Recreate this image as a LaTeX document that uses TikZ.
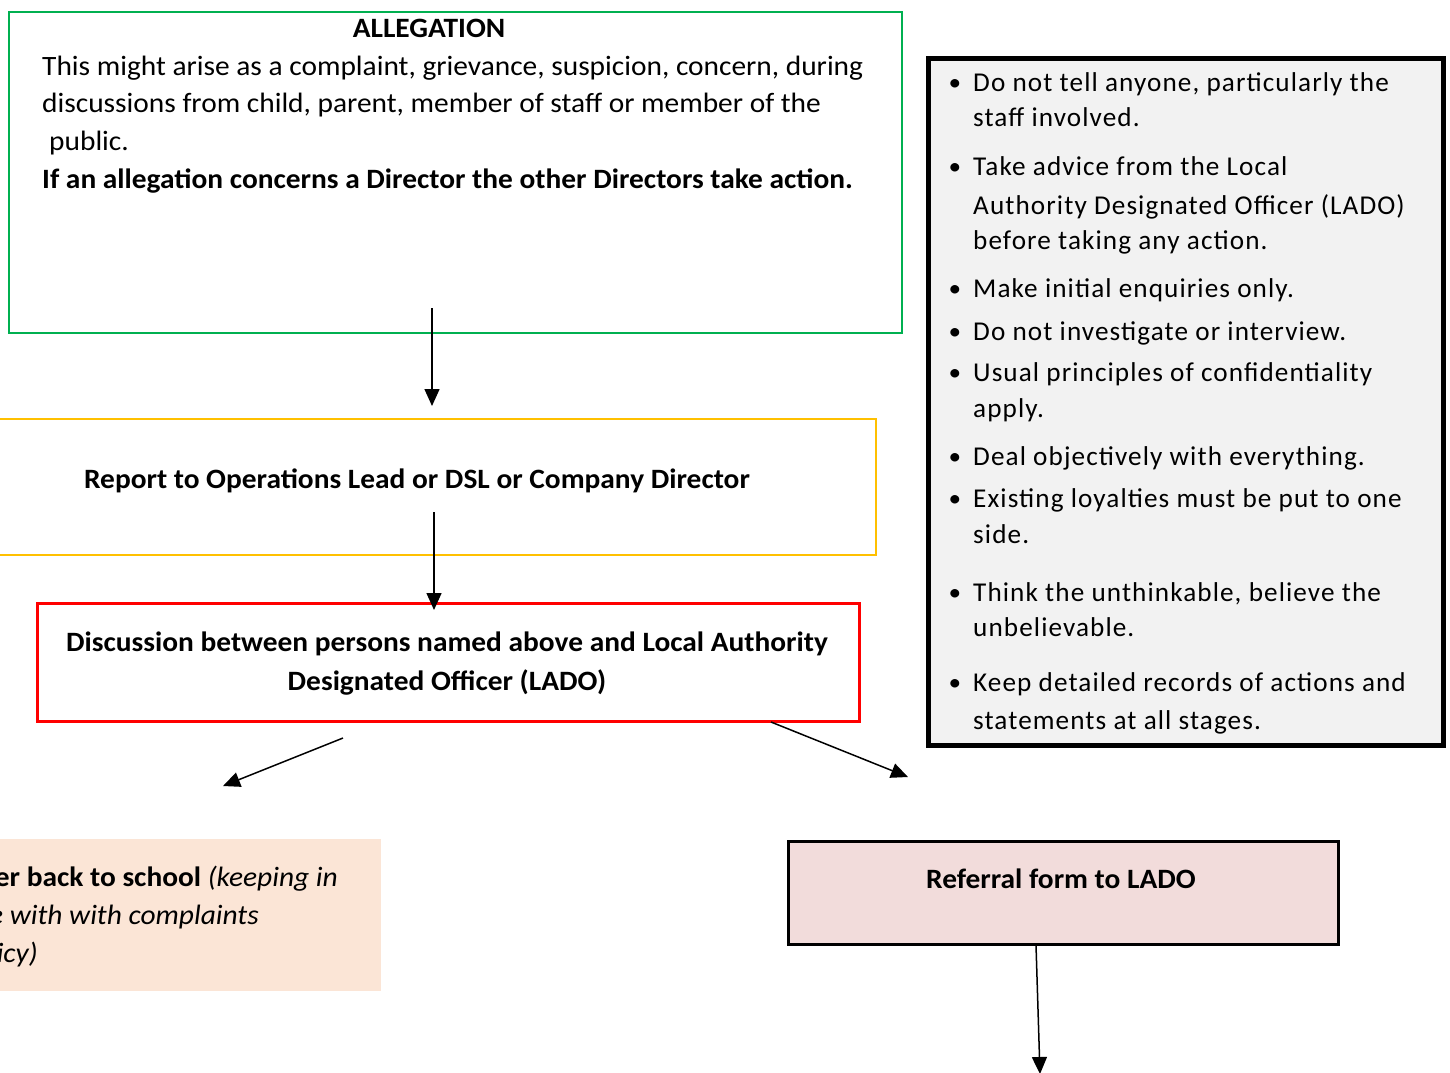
\documentclass[tikz,border=0pt]{standalone}
\usepackage{fontspec}
\setmainfont{Carlito}[FakeStretch=1.05]
\newfontfamily\spacedfont[LetterSpace=4]{Carlito}
\usetikzlibrary{arrows.meta}
\definecolor{grn}{HTML}{00B050}
\definecolor{ylw}{HTML}{FFC000}
\definecolor{rd}{HTML}{FF0000}
\definecolor{greyfill}{HTML}{F2F2F2}
\definecolor{peach}{HTML}{FBE5D6}
\definecolor{pinkfill}{HTML}{F2DCDB}
\begin{document}
\begin{tikzpicture}[x=1pt,y=-1pt,
  boxstyle/.style={inner sep=0pt, anchor=north west},
  txt/.style={inner sep=0pt, anchor=base west, font=\fontsize{28}{32}\selectfont},
  ctxt/.style={inner sep=0pt, anchor=base, font=\fontsize{28}{32}\selectfont\bfseries},
  rtxt/.style={inner sep=0pt, anchor=base east, font=\fontsize{28}{32}\selectfont},
  btxt/.style={inner sep=0pt, anchor=base west, font=\fontsize{27.2}{32}\spacedfont},
  bul/.style={inner sep=0pt, anchor=base, font=\fontsize{24}{30}\selectfont},
  arr/.style={line width=1.5pt, -{Triangle[length=17pt,width=15pt]}}]
\useasboundingbox (0,0) rectangle (1450,1072);
% boxes
\node[boxstyle, draw=grn, line width=2pt, minimum width=893pt, minimum height=321pt] (allegation) at (8,11) {};
\node[boxstyle, draw=ylw, line width=2pt, minimum width=880pt, minimum height=136pt] (report) at (-5,418) {};
\node[boxstyle, draw=rd, line width=3pt, minimum width=822pt, minimum height=118pt] (discussion) at (36,602) {};
\node[boxstyle, draw=black, fill=greyfill, line width=5pt, minimum width=515pt, minimum height=687pt] (advice) at (926,56) {};
\node[boxstyle, fill=peach, minimum width=386pt, minimum height=152pt] (refer) at (-5,839) {};
\node[boxstyle, draw=black, fill=pinkfill, line width=3pt, minimum width=550pt, minimum height=103pt] (referral) at (787,840) {};
% allegation text
\node[ctxt] (t1) at (429,37) {ALLEGATION};
\node[txt] (t2) at (42,75) {This might arise as a complaint, grievance, suspicion, concern, during};
\node[txt] (t3) at (42,112) {discussions from child, parent, member of staff or member of the};
\node[txt] (t4) at (49,150) {public.};
\node[txt, font=\fontsize{28}{32}\selectfont\bfseries] (t5) at (42,188) {If an allegation concerns a Director the other Directors take action.};
% report text
\node[ctxt] (t6) at (417,488) {Report to Operations Lead or DSL or Company Director};
% discussion text
\node[ctxt] (t7) at (447,651) {Discussion between persons named above and Local Authority};
\node[ctxt] (t8) at (447,690) {Designated Officer (LADO)};
% refer text
\node[rtxt] (t9) at (338,886) {\textbf{er back to school} \textit{(keeping in}};
\node[rtxt] (t10) at (259,924) {\textit{e with with complaints}};
\node[rtxt] (t11) at (38,962) {\textit{icy)}};
% referral text
\node[ctxt] (t12) at (1061,888) {Referral form to LADO};
% bullets
\foreach \y/\n in {90/b1,174/b2,296/b3,339/b4,380/b5,464/b6,506/b7,600/b8,690/b9}
  \node[bul] (\n) at (955,\y) {•};
\node[btxt] (r1) at (973,91) {Do not tell anyone, particularly the};
\node[btxt] (r2) at (973,126) {staff involved.};
\node[btxt] (r3) at (973,175) {Take advice from the Local};
\node[btxt] (r4) at (973,214) {Authority Designated Officer (LADO)};
\node[btxt] (r5) at (973,249) {before taking any action.};
\node[btxt] (r6) at (973,297) {Make initial enquiries only.};
\node[btxt] (r7) at (973,340) {Do not investigate or interview.};
\node[btxt] (r8) at (973,381) {Usual principles of confidentiality};
\node[btxt] (r9) at (973,417) {apply.};
\node[btxt] (r10) at (973,465) {Deal objectively with everything.};
\node[btxt] (r11) at (973,507) {Existing loyalties must be put to one};
\node[btxt] (r12) at (973,543) {side.};
\node[btxt] (r13) at (973,601) {Think the unthinkable, believe the};
\node[btxt] (r14) at (973,636) {unbelievable.};
\node[btxt] (r15) at (973,691) {Keep detailed records of actions and};
\node[btxt] (r16) at (973,729) {statements at all stages.};
% arrow endpoints
\coordinate (a1s) at (432,308);
\coordinate (a1e) at (432,406);
\coordinate (a2s) at (434,512);
\coordinate (a2e) at (434,610);
\coordinate (a3s) at (343,738);
\coordinate (a3e) at (223,786);
\coordinate (a4s) at (771,722);
\coordinate (a4e) at (908,777);
\coordinate (a5s) at (1036,945);
\coordinate (a5e) at (1040,1074);
\draw[arr] (a1s) -- (a1e);
\draw[arr] (a2s) -- (a2e);
\draw[arr] (a3s) -- (a3e);
\draw[arr] (a4s) -- (a4e);
\draw[arr] (a5s) -- (a5e);
\end{tikzpicture}
\end{document}
